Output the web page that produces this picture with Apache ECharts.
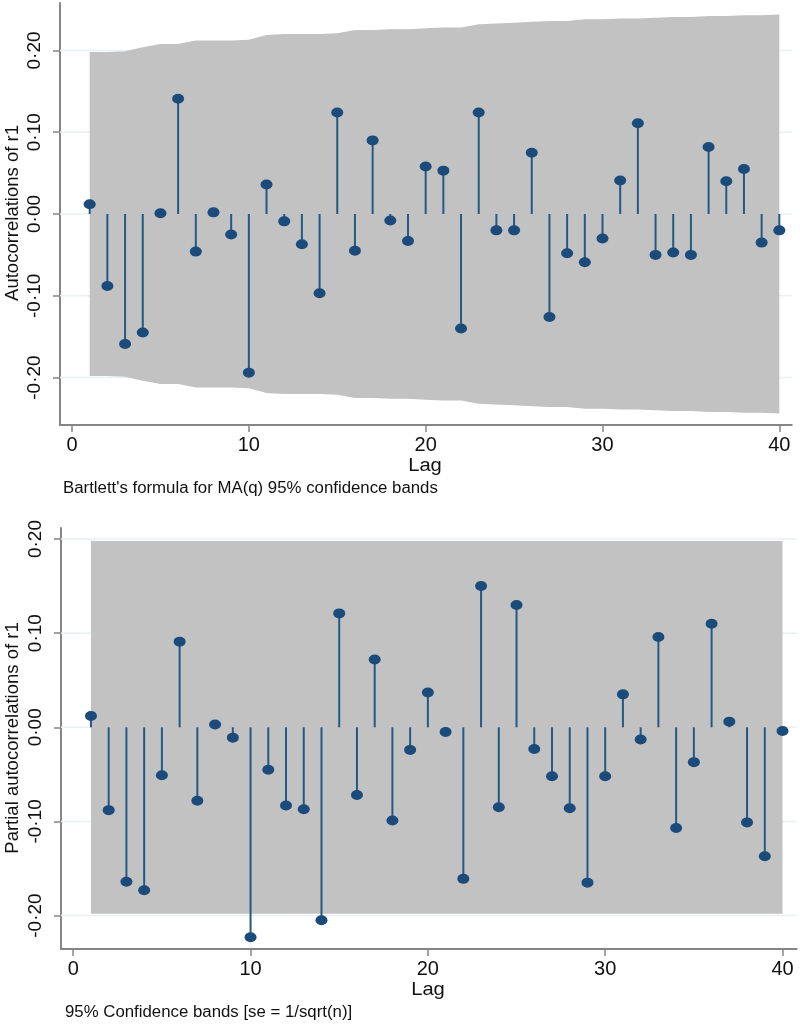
<!DOCTYPE html>
<html>
<head>
<meta charset="utf-8">
<script src="https://cdn.jsdelivr.net/npm/echarts@6/dist/echarts.min.js"></script>
<style>
html,body{margin:0;padding:0;background:#fff;}
#chart{width:800px;height:1025px;}
</style>
</head>
<body>
<div id="chart"></div>
<script>
const lags = [1,2,3,4,5,6,7,8,9,10,11,12,13,14,15,16,17,18,19,20,21,22,23,24,25,26,27,28,29,30,31,32,33,34,35,36,37,38,39,40];
const acf = [0.012,-0.088,-0.159,-0.145,0.001,0.141,-0.046,0.002,-0.025,-0.194,0.036,-0.009,-0.037,-0.097,0.124,-0.045,0.090,-0.008,-0.033,0.058,0.053,-0.140,0.124,-0.020,-0.020,0.075,-0.126,-0.048,-0.059,-0.030,0.041,0.111,-0.050,-0.047,-0.050,0.082,0.040,0.055,-0.035,-0.020];
const acfBandUpper = [0.198,0.198,0.199,0.204,0.208,0.208,0.212,0.212,0.212,0.213,0.219,0.220,0.220,0.220,0.221,0.225,0.225,0.226,0.226,0.227,0.228,0.228,0.232,0.233,0.234,0.235,0.236,0.236,0.238,0.238,0.239,0.239,0.240,0.241,0.241,0.242,0.242,0.243,0.243,0.244];
const acfBandLower = [-0.198,-0.198,-0.199,-0.204,-0.208,-0.208,-0.212,-0.212,-0.212,-0.213,-0.219,-0.220,-0.220,-0.220,-0.221,-0.225,-0.225,-0.226,-0.226,-0.227,-0.228,-0.228,-0.232,-0.233,-0.234,-0.235,-0.236,-0.236,-0.238,-0.238,-0.239,-0.239,-0.240,-0.241,-0.241,-0.242,-0.242,-0.243,-0.243,-0.244];
const pacf = [0.012,-0.088,-0.164,-0.173,-0.051,0.091,-0.078,0.003,-0.011,-0.223,-0.045,-0.083,-0.087,-0.205,0.121,-0.072,0.072,-0.099,-0.024,0.037,-0.005,-0.161,0.150,-0.085,0.130,-0.023,-0.052,-0.086,-0.165,-0.052,0.035,-0.013,0.096,-0.107,-0.037,0.110,0.006,-0.101,-0.137,-0.004];
const pacfBandLags = [1, 40];
const pacfBandUpper = [0.198, 0.198];
const pacfBandLower = [-0.198, -0.198];
const yTicks = [-0.2, -0.1, 0, 0.1, 0.2];
const xTicks = [0, 10, 20, 30, 40];
const acfTitle = 'Autocorrelations of r1';
const pacfTitle = 'Partial autocorrelations of r1';
const xTitle = 'Lag';
const acfNote = "Bartlett's formula for MA(q) 95% confidence bands";
const pacfNote = '95% Confidence bands [se = 1/sqrt(n)]';

const FONT = '"Liberation Sans", Arial, sans-serif';
const AXIS_COLOR = '#858585';
const STEM_COLOR = '#245886';
const DOT_COLOR = '#1b4b7b';
const BAND_COLOR = '#c2c2c2';
const GRID_LINE = '#e8f0f2';

function fmtY(v) {
  const s = Math.abs(v) < 1e-9 ? '0.00' : v.toFixed(2);
  return s.replace('.', '\u00b7');
}

const chart = echarts.init(document.getElementById('chart'), null, {renderer: 'canvas'});

const ranges = [
  {xmin: -0.68, xmax: 40.7, ymin: -0.258, ymax: 0.258},
  {xmin: -0.69, xmax: 40.8, ymin: -0.2355, ymax: 0.2117}
];

function xAxisCfg(i) {
  return {
    type: 'value', gridIndex: i, min: ranges[i].xmin, max: ranges[i].xmax,
    axisLine: {show: true, onZero: false, lineStyle: {color: AXIS_COLOR, width: 2}},
    axisTick: {show: true, customValues: xTicks, length: 7, lineStyle: {color: AXIS_COLOR, width: 1.5}},
    axisLabel: {customValues: xTicks, margin: 10, fontSize: 20, color: '#111', fontFamily: FONT,
      formatter: v => String(Math.round(v))},
    splitLine: {show: false}
  };
}
function yAxisCfg(i) {
  return {
    type: 'value', gridIndex: i, min: ranges[i].ymin, max: ranges[i].ymax,
    axisLine: {show: true, onZero: false, lineStyle: {color: AXIS_COLOR, width: 2}},
    axisTick: {show: true, customValues: yTicks, length: 7, lineStyle: {color: AXIS_COLOR, width: 1.5}},
    axisLabel: {customValues: yTicks, rotate: 90, margin: 16, fontSize: 19, color: '#111', fontFamily: FONT,
      formatter: fmtY},
    splitLine: {show: false}
  };
}

function bandSeries(i, bl, bu, blo) {
  return {
    type: 'custom', xAxisIndex: i, yAxisIndex: i, z: 1, silent: true,
    data: [0],
    renderItem: function (params, api) {
      const children = [];
      yTicks.forEach(t => {
        const p1 = api.coord([ranges[i].xmin, t]);
        const p2 = api.coord([ranges[i].xmax, t]);
        children.push({type: 'line', shape: {x1: p1[0], y1: p1[1], x2: p2[0], y2: p2[1]},
          style: {stroke: GRID_LINE, lineWidth: 1.5}});
      });
      const pts = [];
      for (let k = 0; k < bl.length; k++) pts.push(api.coord([bl[k], bu[k]]));
      for (let k = bl.length - 1; k >= 0; k--) pts.push(api.coord([bl[k], blo[k]]));
      children.push({type: 'polygon', shape: {points: pts}, style: {fill: BAND_COLOR}});
      return {type: 'group', children: children};
    }
  };
}
function stemSeries(i, vals) {
  return {
    type: 'custom', xAxisIndex: i, yAxisIndex: i, z: 3, silent: true,
    data: lags.map((l, k) => [l, vals[k]]),
    renderItem: function (params, api) {
      const a = api.coord([api.value(0), 0]);
      const b = api.coord([api.value(0), api.value(1)]);
      return {type: 'line', shape: {x1: a[0], y1: a[1], x2: b[0], y2: b[1]},
        style: {stroke: STEM_COLOR, lineWidth: 2}};
    }
  };
}
function dotSeries(i, vals, size) {
  return {
    type: 'scatter', xAxisIndex: i, yAxisIndex: i, z: 4, silent: true,
    symbol: 'circle', symbolSize: size,
    itemStyle: {color: DOT_COLOR, opacity: 1},
    data: lags.map((l, k) => [l, vals[k]])
  };
}

const option = {
  animation: false,
  backgroundColor: '#ffffff',
  grid: [
    {left: 60, top: 3, width: 731.7, height: 422},
    {left: 61, top: 528, width: 735.7, height: 421}
  ],
  xAxis: [xAxisCfg(0), xAxisCfg(1)],
  yAxis: [yAxisCfg(0), yAxisCfg(1)],
  series: [
    bandSeries(0, lags, acfBandUpper, acfBandLower),
    stemSeries(0, acf),
    dotSeries(0, acf, [12, 10]),
    bandSeries(1, pacfBandLags, pacfBandUpper, pacfBandLower),
    stemSeries(1, pacf),
    dotSeries(1, pacf, [12, 10])
  ],
  graphic: [
    {type: 'text', x: 13, y: 213, rotation: Math.PI / 2,
      style: {text: acfTitle, fontSize: 18.5, fontFamily: FONT, fill: '#111', align: 'center', verticalAlign: 'middle'}},
    {type: 'text', x: 13, y: 738, rotation: Math.PI / 2,
      style: {text: pacfTitle, fontSize: 18.5, fontFamily: FONT, fill: '#111', align: 'center', verticalAlign: 'middle'}},
    {type: 'text', x: 425, y: 466, scaleX: 1.12,
      style: {text: xTitle, fontSize: 18, fontFamily: FONT, fill: '#111', align: 'center', verticalAlign: 'middle'}},
    {type: 'text', x: 428, y: 990, scaleX: 1.12,
      style: {text: xTitle, fontSize: 18, fontFamily: FONT, fill: '#111', align: 'center', verticalAlign: 'middle'}},
    {type: 'text', x: 63, y: 489, scaleX: 1.05,
      style: {text: acfNote, fontSize: 16, fontFamily: FONT, fill: '#111', align: 'left', verticalAlign: 'middle'}},
    {type: 'text', x: 65, y: 1013, scaleX: 1.05,
      style: {text: pacfNote, fontSize: 16, fontFamily: FONT, fill: '#111', align: 'left', verticalAlign: 'middle'}}
  ]
};
chart.setOption(option);
</script>
</body>
</html>
